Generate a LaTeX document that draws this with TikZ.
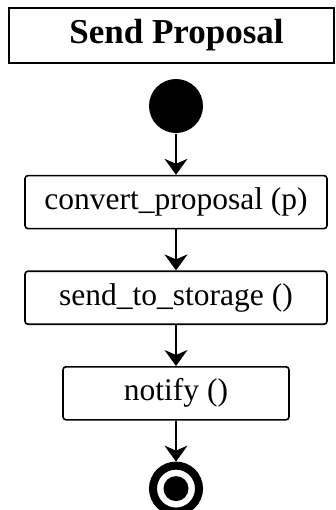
\documentclass[tikz,border=0pt]{standalone}
\usepackage{fontspec}
\setmainfont{Liberation Serif}
\usetikzlibrary{positioning,arrows.meta}

\begin{document}
\begin{tikzpicture}[node distance=41pt, every path/.style={line width=1.6pt},%
        title/.style={draw, rectangle, minimum width=325pt, minimum height=55pt, font=\fontsize{35}{40}\selectfont\bfseries},
        action/.style={draw, rectangle, rounded corners=3pt, minimum height=53pt, inner xsep=4pt, font=\fontsize{31.5}{36}\selectfont},
        initial/.style={circle, fill=black, minimum size=54pt, inner sep=0pt},
        final/.style={circle, draw, line width=8pt, minimum size=46pt, inner sep=0pt,
                path picture={\fill (path picture bounding box.center) circle (12.5pt);}},
        flow/.style={-{Stealth[length=16pt,width=23pt,inset=5pt]}}]
        \useasboundingbox (0pt,0pt) rectangle (335pt,-510pt);
        \node[title] (head) at (171.5pt,-35.5pt) {\hspace*{10pt}Send Proposal};
        \node[initial] (start) at (176pt,-106pt) {};
        \node[action, minimum width=302pt, below=of start] (convert) {convert\_proposal (p)};
        \node[action, minimum width=302pt, below=of convert] (store) {send\_to\_storage ()};
        \node[action, minimum width=226pt, below=of store] (notify) {notify ()};
        \node[final, below=of notify] (stop) {};
        \draw[flow] (start) -- (convert);
        \draw[flow] (convert) -- (store);
        \draw[flow] (store) -- (notify);
        \draw[flow] (notify) -- (stop);
    \end{tikzpicture}
\end{document}
